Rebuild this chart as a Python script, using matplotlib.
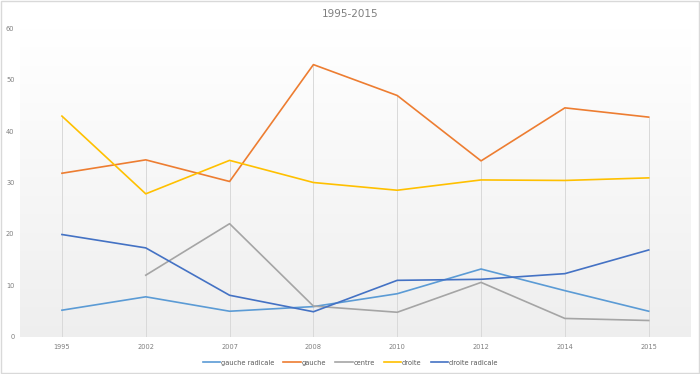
import numpy as np
import matplotlib.pyplot as plt
from matplotlib.patches import Rectangle

# Data
years = ['1995', '2002', '2007', '2008', '2010', '2012', '2014', '2015']
gauche_radicale = [5.2, 7.8, 5.0, 5.9, 8.4, 13.2, 9.0, 5.0]
gauche = [31.8, 34.4, 30.2, 52.9, 46.9, 34.2, 44.5, 42.7]
centre = [np.nan, 12.0, 22.0, 6.0, 4.8, 10.6, 3.6, 3.2]
droite = [42.9, 27.8, 34.3, 30.0, 28.5, 30.5, 30.4, 30.9]
droite_radicale = [19.9, 17.3, 8.1, 4.9, 11.0, 11.2, 12.3, 16.9]

series = [
    ('gauche radicale', gauche_radicale, '#5B9BD5'),
    ('gauche', gauche, '#ED7D31'),
    ('centre', centre, '#A5A5A5'),
    ('droite', droite, '#FFC000'),
    ('droite radicale', droite_radicale, '#4472C4'),
]

fig = plt.figure(figsize=(7.0, 3.74), dpi=100)
ax = fig.add_axes([0.0286, 0.099, 0.958, 0.826])

x = np.arange(len(years))

# plot area gradient (white at top, light grey at bottom)
grad = np.linspace(0.935, 1.0, 256).reshape(-1, 1)
ax.imshow(np.dstack([grad, grad, grad]), aspect='auto', origin='lower',
          extent=(-0.5, len(years) - 0.5, 0, 60), zorder=0)

# drop lines from the highest value down to the axis
tops = np.nanmax(np.array([s[1] for s in series]), axis=0)
ax.vlines(x, 0, tops, color='#d9d9d9', lw=0.7, zorder=1)

for name, vals, col in series:
    ax.plot(x, vals, color=col, lw=1.2, label=name, zorder=3)

ax.set_xlim(-0.5, len(years) - 0.5)
ax.set_ylim(0, 60)
ax.set_yticks(range(0, 61, 10))
ax.set_xticks(x)
ax.set_xticklabels(years)
ax.tick_params(axis='both', length=0, labelsize=4.8, colors='#7f7f7f')
ax.tick_params(axis='x', pad=5)
ax.tick_params(axis='y', pad=4)
for sp in ax.spines.values():
    sp.set_visible(False)

fig.text(0.5, 0.963, '1995-2015', ha='center', va='center',
         fontsize=7.5, color='#7f7f7f')

leg = fig.legend(loc='center', bbox_to_anchor=(0.5, 0.03), ncol=5,
                 frameon=False, fontsize=4.8, handlelength=2.6,
                 handletextpad=0.1, columnspacing=1.4)
for t in leg.get_texts():
    t.set_color('#595959')

# light border around the chart
fig.add_artist(Rectangle((0.001, 0.002), 0.997, 0.995, transform=fig.transFigure,
                         fill=False, edgecolor='#d9d9d9', lw=1.0))

fig.savefig('out.png', dpi=100)
